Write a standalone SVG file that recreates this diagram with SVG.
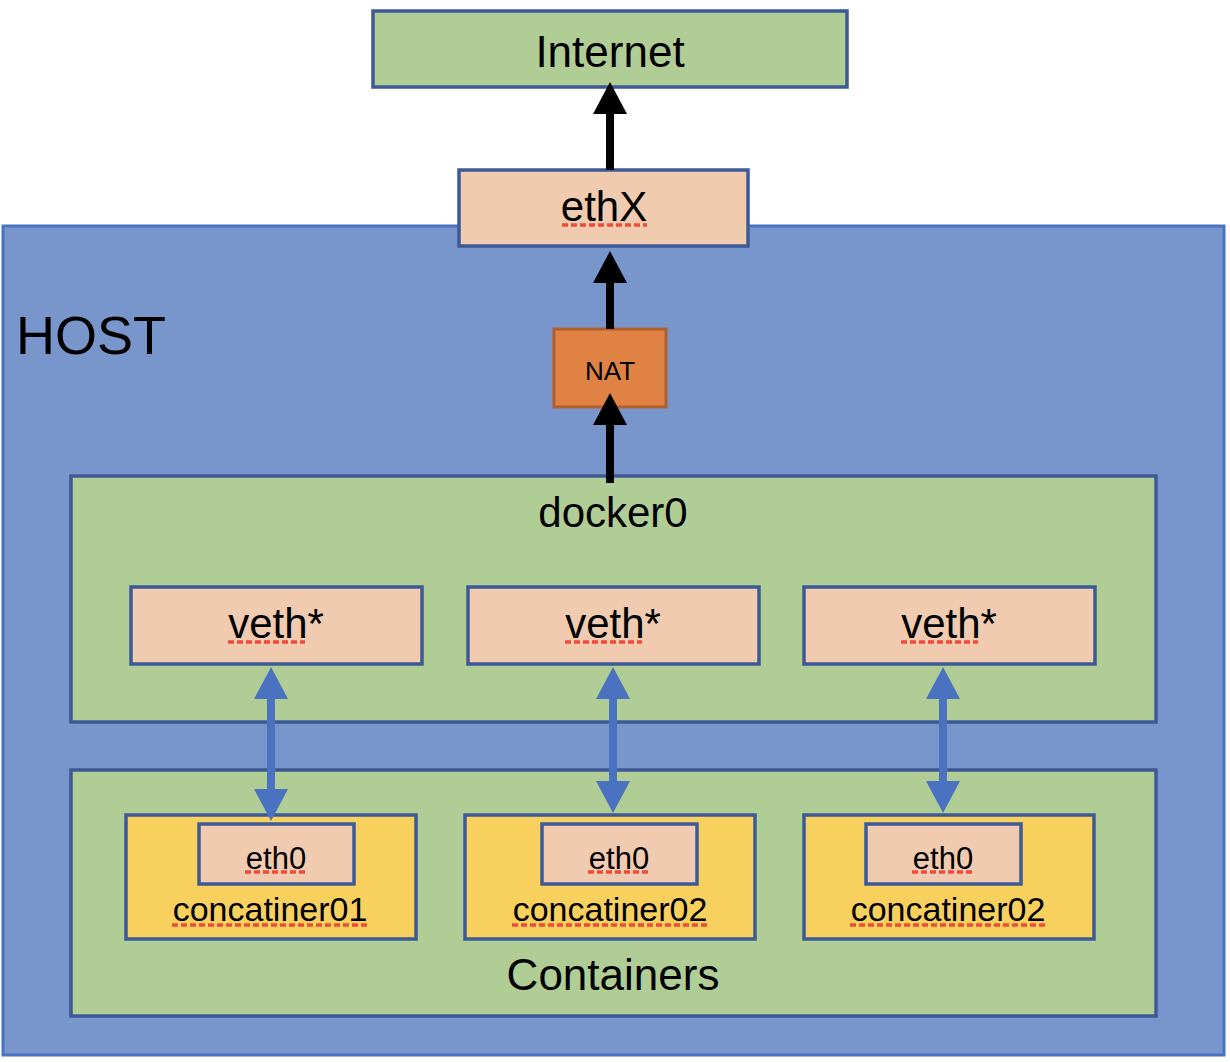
<svg xmlns="http://www.w3.org/2000/svg" width="1230" height="1062" viewBox="0 0 1230 1062">
<style>
text{font-family:"Liberation Sans",Arial,Helvetica,sans-serif;fill:#000;text-anchor:middle}
.g{fill:#b1cd96;stroke:#3d5a96;stroke-width:3.5}
.p{fill:#f1cbb0;stroke:#3d5a96;stroke-width:3.5}
.y{fill:#f7d05e;stroke:#3d5a96;stroke-width:3.5}
.sq{stroke:#ef4b3b;stroke-width:3.5;stroke-dasharray:6,3;fill:none}
.blk{stroke:#000;stroke-width:8;fill:none}
.blu{stroke:#4a72c0;stroke-width:8;fill:none}
</style>
<defs>
<marker id="ab" markerUnits="userSpaceOnUse" markerWidth="32" markerHeight="34" refX="12" refY="17" orient="auto-start-reverse" overflow="visible"><path d="M0,0 L32,17 L0,34 Z" fill="#000"/></marker>
<marker id="au" markerUnits="userSpaceOnUse" markerWidth="32" markerHeight="34" refX="12" refY="17" orient="auto-start-reverse" overflow="visible"><path d="M0,0 L32,17 L0,34 Z" fill="#4a72c0"/></marker>
</defs>
<rect width="1230" height="1062" fill="#fff"/>
<g id="host">
<rect x="3" y="226" width="1221" height="829" fill="#7896cc" stroke="#4a72c2" stroke-width="3"/>
<text x="16" y="354" style="text-anchor:start" font-size="54">HOST</text>
</g>
<g id="internet">
<rect class="g" x="373" y="11" width="474" height="76"/>
<text x="610" y="67" font-size="44">Internet</text>
</g>
<g id="ethX">
<rect class="p" x="459" y="170" width="289" height="76"/>
<text x="604" y="221" font-size="42">ethX</text>
<line class="sq" x1="562" y1="225" x2="647" y2="225"/>
</g>
<g id="nat">
<rect x="554" y="329" width="112" height="78" fill="#e08243" stroke="#b0602f" stroke-width="3"/>
<text x="610" y="380" font-size="26">NAT</text>
</g>
<g id="docker0">
<rect class="g" x="71" y="476" width="1085" height="246"/>
<text x="613" y="527" font-size="42">docker0</text>
</g>
<g id="veth1">
<rect class="p" x="131" y="587" width="291" height="77"/>
<text x="276" y="638" font-size="42">veth*</text>
<line class="sq" x1="228" y1="642" x2="305" y2="642"/>
</g>
<g id="veth2">
<rect class="p" x="468" y="587" width="291" height="77"/>
<text x="613" y="638" font-size="42">veth*</text>
<line class="sq" x1="565" y1="642" x2="642" y2="642"/>
</g>
<g id="veth3">
<rect class="p" x="804" y="587" width="291" height="77"/>
<text x="949" y="638" font-size="42">veth*</text>
<line class="sq" x1="901" y1="642" x2="978" y2="642"/>
</g>
<g id="containers">
<rect class="g" x="71" y="770" width="1085" height="246"/>
<text x="613" y="990" font-size="44">Containers</text>
</g>
<g id="container1">
<rect class="y" x="126" y="815" width="290" height="124"/>
<rect class="p" x="199" y="824" width="155" height="60"/>
<text x="276" y="869" font-size="31">eth0</text>
<line class="sq" x1="245" y1="872" x2="307" y2="872"/>
<text x="270" y="921" font-size="34">concatiner01</text>
<line class="sq" x1="172" y1="925" x2="367" y2="925"/>
</g>
<g id="container2">
<rect class="y" x="465" y="815" width="290" height="124"/>
<rect class="p" x="542" y="824" width="155" height="60"/>
<text x="619" y="869" font-size="31">eth0</text>
<line class="sq" x1="588" y1="872" x2="650" y2="872"/>
<text x="610" y="921" font-size="34">concatiner02</text>
<line class="sq" x1="512" y1="925" x2="708" y2="925"/>
</g>
<g id="container3">
<rect class="y" x="804" y="815" width="290" height="124"/>
<rect class="p" x="866" y="824" width="155" height="60"/>
<text x="943" y="869" font-size="31">eth0</text>
<line class="sq" x1="912" y1="872" x2="974" y2="872"/>
<text x="948" y="921" font-size="34">concatiner02</text>
<line class="sq" x1="850" y1="925" x2="1046" y2="925"/>
</g>
<g id="connectors">
<line class="blk" x1="610" y1="170" x2="610" y2="102" marker-end="url(#ab)"/>
<line class="blk" x1="610" y1="329" x2="610" y2="271" marker-end="url(#ab)"/>
<line class="blk" x1="610" y1="483" x2="610" y2="413" marker-end="url(#ab)"/>
<line class="blu" x1="271" y1="687" x2="271" y2="801" marker-start="url(#au)" marker-end="url(#au)"/>
<line class="blu" x1="613" y1="687" x2="613" y2="793" marker-start="url(#au)" marker-end="url(#au)"/>
<line class="blu" x1="943" y1="687" x2="943" y2="793" marker-start="url(#au)" marker-end="url(#au)"/>
</g>
</svg>
